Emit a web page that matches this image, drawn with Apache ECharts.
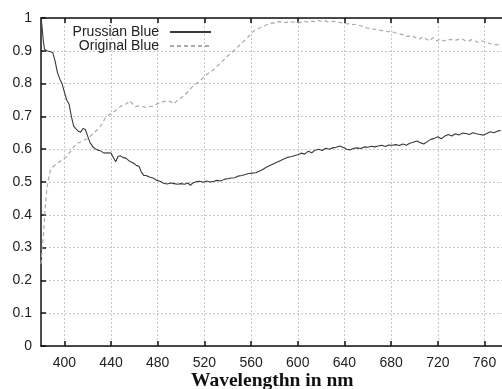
<!DOCTYPE html>
<html>
<head>
<meta charset="utf-8">
<script src="https://cdn.jsdelivr.net/npm/echarts@6/dist/echarts.min.js"></script>
<style>html,body{margin:0;padding:0;background:#fff;}#c{width:502px;height:389px;}</style>
</head>
<body>
<div id="c"></div>
<script>
// ---- data ----
const xTickValues = [400, 440, 480, 520, 560, 600, 640, 680, 720, 760];
const yTickValues = [0, 0.1, 0.2, 0.3, 0.4, 0.5, 0.6, 0.7, 0.8, 0.9, 1];
const seriesNames = ['Prussian Blue', 'Original Blue'];
const xTitle = 'Wavelengthn in nm';

const prussianX = [380,381,382,383,385,388,390,392,394,396,398,400,402,404,405,406,408,410,412,414,416,418,420,422,425,428,431,434,437,440,442,444,446,448,450,453,456,459,462,464,466,468,470,473,476,479,482,485,488,491,494,497,500,503,506,508,510,513,516,519,522,525,528,531,534,537,540,543,546,549,552,555,558,561,564,567,570,573,576,579,582,585,588,591,594,597,600,603,606,609,612,615,618,621,624,627,630,633,636,639,642,645,648,651,654,657,660,663,666,669,672,675,678,681,684,687,690,693,696,699,702,705,708,711,714,717,720,723,726,729,732,735,738,741,744,747,750,753,756,759,762,765,768,771,774];
const prussianY = [1.00,0.97,0.93,0.905,0.90,0.897,0.895,0.87,0.835,0.815,0.80,0.775,0.75,0.738,0.72,0.70,0.67,0.662,0.655,0.652,0.663,0.66,0.64,0.62,0.605,0.598,0.595,0.588,0.589,0.588,0.575,0.562,0.578,0.58,0.575,0.572,0.563,0.558,0.55,0.548,0.53,0.52,0.52,0.515,0.512,0.505,0.502,0.496,0.494,0.497,0.495,0.493,0.495,0.493,0.497,0.49,0.497,0.501,0.502,0.499,0.503,0.5,0.502,0.505,0.503,0.508,0.51,0.512,0.513,0.518,0.52,0.523,0.526,0.527,0.528,0.533,0.538,0.545,0.55,0.555,0.56,0.565,0.57,0.575,0.577,0.58,0.583,0.588,0.585,0.594,0.589,0.597,0.6,0.596,0.603,0.6,0.604,0.606,0.61,0.605,0.6,0.598,0.603,0.604,0.602,0.607,0.606,0.609,0.607,0.61,0.612,0.608,0.613,0.612,0.614,0.611,0.616,0.612,0.618,0.621,0.625,0.62,0.616,0.623,0.63,0.633,0.638,0.632,0.64,0.645,0.64,0.647,0.643,0.649,0.648,0.645,0.65,0.647,0.645,0.643,0.648,0.653,0.65,0.655,0.657];

const originalX = [380,381,382,383,384,385,386,388,390,393,396,399,402,405,408,411,414,417,420,423,426,429,432,435,438,441,444,447,450,453,456,458,461,464,467,470,473,476,479,482,485,488,491,494,497,500,503,506,509,512,515,518,521,524,527,530,533,536,539,542,545,548,551,554,557,560,563,566,569,572,575,578,581,584,587,590,593,596,599,602,605,608,611,614,617,620,623,626,629,632,635,638,641,644,647,650,653,656,659,662,665,668,671,674,677,680,683,686,689,692,695,698,701,704,707,710,713,716,719,722,725,728,731,734,737,740,743,746,749,752,755,758,761,764,767,770,773];
const originalY = [0.25,0.30,0.33,0.39,0.44,0.48,0.50,0.535,0.545,0.555,0.562,0.57,0.578,0.592,0.607,0.618,0.622,0.628,0.632,0.642,0.652,0.662,0.675,0.695,0.705,0.71,0.718,0.727,0.735,0.738,0.748,0.74,0.73,0.732,0.73,0.728,0.73,0.731,0.737,0.742,0.745,0.748,0.745,0.738,0.75,0.757,0.765,0.775,0.788,0.797,0.805,0.815,0.825,0.833,0.84,0.85,0.86,0.87,0.882,0.89,0.9,0.91,0.92,0.93,0.94,0.953,0.962,0.968,0.972,0.977,0.982,0.985,0.984,0.989,0.988,0.986,0.99,0.987,0.989,0.986,0.99,0.988,0.991,0.989,0.993,0.99,0.992,0.988,0.99,0.989,0.987,0.985,0.983,0.982,0.98,0.981,0.977,0.974,0.97,0.968,0.966,0.965,0.962,0.96,0.958,0.96,0.955,0.953,0.95,0.945,0.944,0.946,0.94,0.935,0.942,0.936,0.93,0.94,0.93,0.936,0.93,0.933,0.935,0.931,0.934,0.937,0.932,0.929,0.934,0.93,0.925,0.93,0.927,0.923,0.92,0.918,0.92];

function pairs(xs, ys) { return xs.map((x, i) => [x, ys[i]]); }

const chart = echarts.init(document.getElementById('c'), null, {renderer: 'canvas'});
const font = 'Liberation Sans, Arial, sans-serif';
const gridLine = {show: true, lineStyle: {color: '#c8c8c8', type: [2, 2], width: 1}};

chart.setOption({
  animation: false,
  backgroundColor: '#ffffff',
  grid: {left: 41, right: 0, top: 18, bottom: 43, containLabel: false},
  legend: {
    orient: 'vertical', top: 25, right: 290, align: 'right', padding: 0, itemGap: 0,
    itemWidth: 41, itemHeight: 14,
    itemStyle: {color: 'transparent', borderColor: 'transparent', borderWidth: 0, opacity: 0},
    textStyle: {fontFamily: font, fontSize: 14, color: '#222', padding: [0, 6, 0, 0]},
    data: seriesNames
  },
  xAxis: [{
    type: 'value', min: 380, max: 775, interval: 20,
    axisLine: {lineStyle: {color: '#111', width: 1.5}},
    axisTick: {inside: true, length: 5, customValues: xTickValues, lineStyle: {color: '#111', width: 1.5}},
    axisLabel: {customValues: xTickValues, margin: 10, fontFamily: font, fontSize: 14, color: '#222'},
    splitLine: gridLine
  }, {
    type: 'value', min: 380, max: 775, interval: 20, position: 'top',
    axisLine: {show: true, lineStyle: {color: '#111', width: 1.5}},
    axisTick: {show: true, inside: true, length: 5, customValues: xTickValues, lineStyle: {color: '#111', width: 1.5}},
    axisLabel: {show: false},
    splitLine: {show: false}
  }],
  yAxis: {
    type: 'value', min: 0, max: 1, interval: 0.1,
    axisLine: {show: true, lineStyle: {color: '#111', width: 1.5}},
    axisTick: {show: true, inside: true, length: 5, lineStyle: {color: '#111', width: 1.5}},
    axisLabel: {margin: 9, fontFamily: font, fontSize: 14, color: '#222'},
    splitLine: gridLine
  },
  graphic: [{
    type: 'text', left: 191, top: 371,
    style: {text: xTitle, font: 'bold 19.5px "Liberation Serif", "Times New Roman", serif', fill: '#111'}
  }],
  series: [{
    name: seriesNames[0], type: 'line', symbol: 'none', showSymbol: false,
    data: pairs(prussianX, prussianY),
    lineStyle: {color: '#3a3a3a', width: 1.1},
    itemStyle: {color: '#3a3a3a'}
  }, {
    name: seriesNames[1], type: 'line', symbol: 'none', showSymbol: false,
    data: pairs(originalX, originalY),
    lineStyle: {color: '#aaaaaa', width: 1.2, type: [4, 3]},
    itemStyle: {color: '#aaaaaa'}
  }]
});
</script>
</body>
</html>
